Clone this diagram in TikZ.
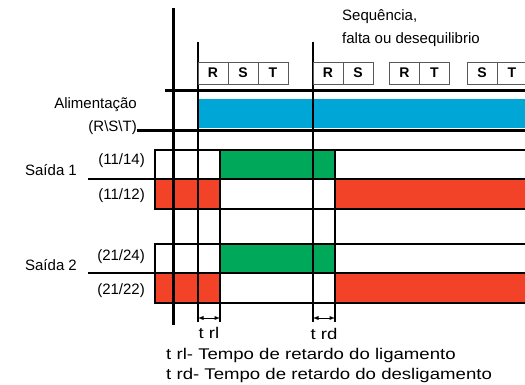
\documentclass[tikz,border=0pt]{standalone}
\usepackage{fontspec}
\setmainfont{Liberation Sans}
\usetikzlibrary{arrows,positioning}
\definecolor{supplyblue}{RGB}{0,166,214}
\definecolor{ongreen}{RGB}{0,168,89}
\definecolor{offred}{RGB}{242,67,41}
\tikzset{timeline/.style={
            line width=3pt
        },
        marker/.style={
            line width=1.3pt
        },
        relaybox/.style={
            line width=2.5pt
        },
        phasebox/.style={
            draw=black!65,
            line width=0.8pt,
            minimum width=30pt,
            minimum height=22pt,
            inner sep=0pt,
            outer sep=0pt,
            font=\fontsize{14}{14}\selectfont\bfseries
        },
        txt/.style={
            inner sep=0pt,
            font=\fontsize{15}{18}\selectfont
        },
        notetext/.style={
            inner sep=0pt,
            xscale=1.2,
            transform shape,
            font=\fontsize{15.5}{18}\selectfont
        },
        delay/.style={
            <->,
            >=latex,
            line width=0.9pt
        }
    }
\begin{document}
\begin{tikzpicture}[x=1pt,y=-1pt]
        \useasboundingbox (0,0) rectangle (525,385);
        \clip (0,0) rectangle (525,385);

        \fill[supplyblue] (197,99) rectangle (530,128);
        \foreach \y in {150,244} {
            \fill[ongreen] (220,\y) rectangle (335,\y+29);
            \fill[offred] (155,\y+29) rectangle (220,\y+59);
            \fill[offred] (335,\y+29) rectangle (530,\y+59);
            \draw[relaybox] (155,\y) rectangle (535,\y+59);
            \draw[relaybox] (88,\y+29) -- (535,\y+29);
        }

        \draw[marker] (198,42) -- (198,322);
        \draw[marker] (313,42) -- (313,322);
        \draw[marker] (220,150) -- (220,322);
        \draw[marker] (335,150) -- (335,322);

        \draw[timeline] (173,8) -- (173,325);
        \draw[timeline] (165,90.5) -- (530,90.5);
        \draw[timeline] (137,131) -- (530,131);

        \node[phasebox] (r1) at (213,73) {R};
        \node[phasebox, right=0pt of r1] (s1) {S};
        \node[phasebox, right=0pt of s1] (t1) {T};
        \node[phasebox] (r2) at (328,73) {R};
        \node[phasebox, right=0pt of r2] (s2) {S};
        \node[phasebox] (r3) at (404.5,73) {R};
        \node[phasebox, right=0pt of r3] (t3) {T};
        \node[phasebox] (s4) at (482,73) {S};
        \node[phasebox, right=0pt of s4] (t4) {T};

        \node[txt, anchor=west] (seq) at (342,17) {Sequência,};
        \node[txt, anchor=west] (fault) at (342,40) {falta ou desequilibrio};

        \node[txt, anchor=east] (supply) at (137,105) {Alimentação};
        \node[txt, anchor=east] (phases) at (137,128) {(R\textbackslash S\textbackslash T)};

        \node[txt] (out1) at (51,170) {Saída 1};
        \node[txt, anchor=east] (no1) at (145,161) {(11/14)};
        \node[txt, anchor=east] (nc1) at (145,196) {(11/12)};
        \node[txt] (out2) at (51,265) {Saída 2};
        \node[txt, anchor=east] (no2) at (145,257) {(21/24)};
        \node[txt, anchor=east] (nc2) at (145,291) {(21/22)};

        \coordinate (rlstart) at (198,318);
        \coordinate (rlend) at (220,318);
        \coordinate (rdstart) at (313,318);
        \coordinate (rdend) at (335,318);
        \draw[delay] (rlstart) -- (rlend);
        \draw[delay] (rdstart) -- (rdend);
        \node[notetext] (trl) at (209,333) {t rl};
        \node[notetext] (trd) at (324,334) {t rd};

        \node[notetext, anchor=west] (note1) at (166,355) {t rl- Tempo de retardo do ligamento};
        \node[notetext, anchor=west] (note2) at (166,375) {t rd- Tempo de retardo do desligamento};
    \end{tikzpicture}
\end{document}
